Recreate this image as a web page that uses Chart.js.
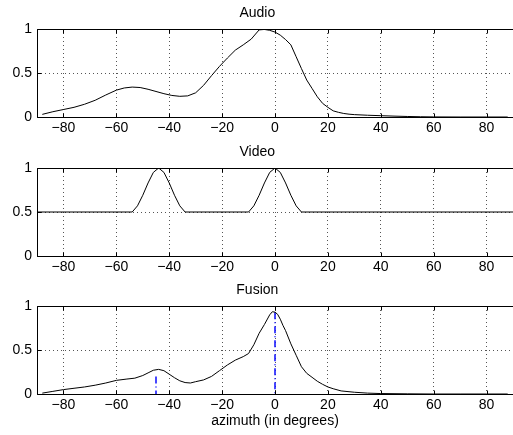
<!DOCTYPE html>
<html>
<head>
<meta charset="utf-8">
<script src="https://cdn.jsdelivr.net/npm/chart.js@4.4.1/dist/chart.umd.min.js"></script>
<style>
html, body { margin: 0; padding: 0; overflow: hidden; background: #fff; width: 513px; height: 435px; }
canvas { position: absolute; left: 0; }
</style>
</head>
<body>
<canvas id="audioChart" width="513" height="138" style="top:0px"></canvas>
<canvas id="videoChart" width="513" height="138" style="top:139px"></canvas>
<canvas id="fusionChart" width="513" height="158" style="top:277px"></canvas>
<script>
// =========================
// DATA
// =========================

const audioAz = [-88, -84, -80, -76, -72, -68, -64, -60, -57, -54, -51, -48, -45, -42, -39, -36, -33, -30, -27, -24, -21, -18, -15, -12, -9, -6, -4, -2, 0, 2, 4, 6, 8, 10, 12, 14, 16, 18, 20, 22, 24, 26, 28, 30, 35, 40, 45, 50, 55, 60, 70, 80, 88];
const audioVal = [0.03, 0.06, 0.085, 0.11, 0.145, 0.19, 0.25, 0.305, 0.33, 0.34, 0.335, 0.315, 0.29, 0.265, 0.245, 0.235, 0.24, 0.275, 0.36, 0.47, 0.575, 0.67, 0.76, 0.82, 0.885, 0.99, 0.995, 0.985, 0.965, 0.93, 0.88, 0.82, 0.685, 0.55, 0.42, 0.325, 0.23, 0.155, 0.11, 0.07, 0.053, 0.04, 0.032, 0.027, 0.02, 0.015, 0.01, 0.006, 0.003, 0.001, 0, 0, 0];

const videoAz = [-90, -54, -52, -50, -48, -46, -44, -42, -40, -38, -36, -34, -10, -8, -6, -4, -2, 0, 2, 4, 6, 8, 10, 90];
const videoVal = [0.5, 0.5, 0.57, 0.69, 0.83, 0.95, 1.0, 0.95, 0.83, 0.69, 0.57, 0.5, 0.5, 0.57, 0.69, 0.83, 0.95, 1.0, 0.95, 0.83, 0.69, 0.57, 0.5, 0.5];

const fusionAz = [-88, -84, -80, -76, -72, -68, -64, -60, -56, -53, -50, -48, -46, -44, -42, -40, -38, -36, -34, -32, -30, -27, -24, -21, -18, -15, -12, -10, -8, -6, -4, -2, -1, 0, 1, 2, 3, 4, 6, 8, 10, 12, 14, 16, 18, 20, 22, 25, 30, 35, 40, 50, 60, 70, 80, 88];
const fusionVal = [0.01, 0.03, 0.05, 0.065, 0.08, 0.1, 0.125, 0.155, 0.17, 0.18, 0.21, 0.24, 0.27, 0.28, 0.265, 0.225, 0.185, 0.15, 0.13, 0.125, 0.14, 0.16, 0.2, 0.265, 0.33, 0.385, 0.425, 0.46, 0.56, 0.69, 0.79, 0.9, 0.935, 0.93, 0.905, 0.85, 0.78, 0.72, 0.57, 0.44, 0.31, 0.235, 0.19, 0.145, 0.11, 0.08, 0.06, 0.035, 0.02, 0.01, 0.005, 0.002, 0, 0, 0, 0];

// detected sources (blue markers on the fusion plot)
const sourceAz = [-45, 0];
const sourceVal = [0.2, 0.93];

const xTicks = [-80, -60, -40, -20, 0, 20, 40, 60, 80];
const yTicks = [0, 0.5, 1];
const xMin = -90, xMax = 90;
const yMin = 0, yMax = 1;

// =========================
// HELPERS
// =========================

const FONT = "'Liberation Sans', Arial, Helvetica, sans-serif";

function toPoints(xs, ys) {
    return xs.map((x, i) => ({ x: x, y: ys[i] }));
}

// MATLAB style box (top, bottom, left; the right side is off the picture) with inward tick marks
const boxPlugin = {
    id: "box",
    afterDraw(chart) {
        const ctx = chart.ctx;
        const a = chart.chartArea;
        const L = Math.round(a.left) + 0.5, R = a.right;
        const T = Math.round(a.top) + 0.5, B = Math.round(a.bottom) + 0.5;
        ctx.save();
        ctx.strokeStyle = "#000";
        ctx.lineWidth = 1;
        ctx.setLineDash([]);
        ctx.beginPath();
        ctx.moveTo(R, T); ctx.lineTo(L, T); ctx.lineTo(L, B); ctx.lineTo(R, B);
        chart.scales.x.ticks.forEach(t => {
            const px = Math.round(chart.scales.x.getPixelForValue(t.value)) + 0.5;
            ctx.moveTo(px, B); ctx.lineTo(px, B - 4);
            ctx.moveTo(px, T); ctx.lineTo(px, T + 4);
        });
        chart.scales.y.ticks.forEach(t => {
            const py = Math.round(chart.scales.y.getPixelForValue(t.value)) + 0.5;
            ctx.moveTo(L, py); ctx.lineTo(L + 4, py);
        });
        ctx.stroke();
        ctx.restore();
    }
};

function makeChart(id, title, datasets, xTitle, xHeight) {
    return new Chart(document.getElementById(id), {
        type: "line",
        data: { datasets: datasets },
        plugins: [boxPlugin],
        options: {
            responsive: false,
            animation: false,
            // the axes box runs slightly past the right edge of the picture
            layout: { padding: { left: 0, right: -1.6, top: 0, bottom: 0 } },
            plugins: {
                legend: { display: false },
                tooltip: { enabled: false },
                title: {
                    display: true,
                    text: title,
                    color: "#000",
                    font: { family: FONT, size: 14, weight: "normal" },
                    padding: { top: 4.6, bottom: 7.6 }
                }
            },
            scales: {
                x: {
                    type: "linear",
                    min: xMin,
                    max: xMax,
                    afterFit: s => { s.height = xHeight; },
                    afterBuildTicks: s => { s.ticks = xTicks.map(v => ({ value: v })); },
                    ticks: {
                        color: "#000",
                        padding: 3,
                        maxRotation: 0,
                        autoSkip: false,
                        font: { family: FONT, size: 14 },
                        callback: v => (v < 0 ? "\u2212" + Math.abs(v) : "" + v)
                    },
                    grid: { color: "#555", lineWidth: 1, drawTicks: false },
                    border: { display: false, dash: [1, 3] },
                    title: {
                        display: !!xTitle,
                        text: xTitle || "",
                        color: "#000",
                        font: { family: FONT, size: 14 },
                        padding: { top: 0, bottom: 5.6 }
                    }
                },
                y: {
                    min: yMin,
                    max: yMax,
                    afterFit: s => { s.width = 37; },
                    afterBuildTicks: s => { s.ticks = yTicks.map(v => ({ value: v })); },
                    ticks: {
                        color: "#000",
                        padding: 5,
                        autoSkip: false,
                        font: { family: FONT, size: 14 },
                        callback: v => "" + v
                    },
                    grid: { color: "#555", lineWidth: 1, drawTicks: false },
                    border: { display: false, dash: [1, 3] }
                }
            }
        }
    });
}

function curve(xs, ys) {
    return {
        data: toPoints(xs, ys),
        borderColor: "#000",
        borderWidth: 1,
        pointRadius: 0,
        tension: 0,
        fill: false
    };
}

// =========================
// CHARTS
// =========================

makeChart("audioChart", "Audio", [curve(audioAz, audioVal)], null, 21);
makeChart("videoChart", "Video", [curve(videoAz, videoVal)], null, 21);

const stems = sourceAz.map((az, i) => ({
    data: [{ x: az, y: sourceVal[i] }, { x: az, y: 0 }],
    borderColor: "#1a1aff",
    borderWidth: 1.6,
    borderDash: [7, 3, 1, 3],
    pointRadius: 0,
    fill: false
}));

makeChart("fusionChart", "Fusion", [curve(fusionAz, fusionVal)].concat(stems), "azimuth (in degrees)", 41);
</script>
</body>
</html>
